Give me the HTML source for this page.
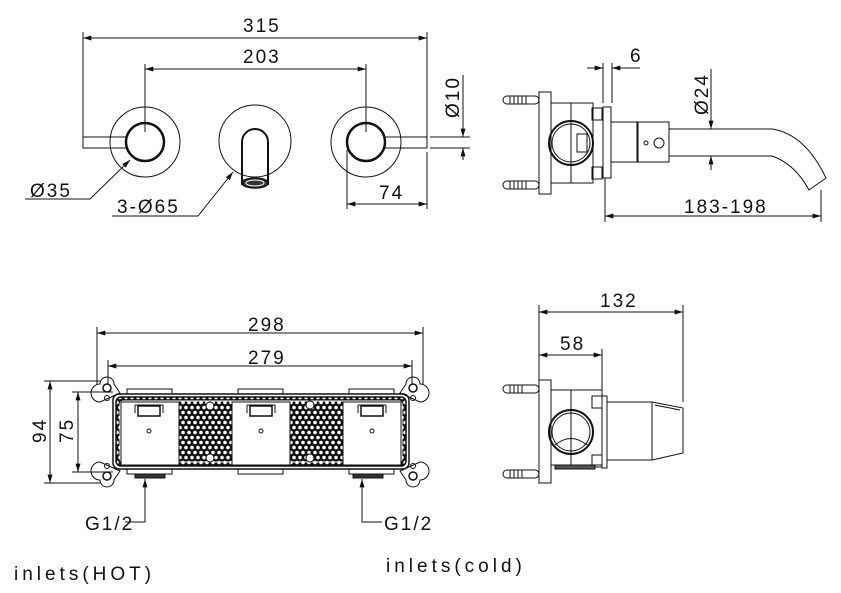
<!DOCTYPE html>
<html><head><meta charset="utf-8">
<style>
html,body{margin:0;padding:0;background:#fff;}
svg{display:block;}
text{font-family:"Liberation Sans Narrow","Liberation Sans",sans-serif;font-size:19px;fill:#111;letter-spacing:2px;}
</style></head><body>
<svg width="841" height="593" viewBox="0 0 841 593" xmlns="http://www.w3.org/2000/svg">
<defs>
<marker id="a" viewBox="0 0 10 6" refX="10" refY="3" markerWidth="12" markerHeight="5" orient="auto-start-reverse" markerUnits="userSpaceOnUse"><path d="M0,0 L10,3 L0,6 z" fill="#111"/></marker>
<pattern id="hex" width="6" height="10" patternUnits="userSpaceOnUse">
<rect width="6" height="10" fill="#111"/>
<circle cx="3" cy="2.5" r="1.8" fill="#fff"/><circle cx="0" cy="7.5" r="1.8" fill="#fff"/><circle cx="6" cy="7.5" r="1.8" fill="#fff"/>
</pattern>
</defs>
<g stroke="#111" stroke-width="1" fill="none">
<line x1="83" y1="32" x2="83" y2="137"/>
<line x1="427" y1="32" x2="427" y2="137"/>
<line x1="83" y1="38" x2="427" y2="38" marker-start="url(#a)" marker-end="url(#a)"/>
<line x1="145" y1="64" x2="145" y2="132"/>
<line x1="366" y1="64" x2="366" y2="132"/>
<line x1="145" y1="69" x2="366" y2="69" marker-start="url(#a)" marker-end="url(#a)"/>
<circle cx="145" cy="142" r="35"/>
<circle cx="145" cy="142" r="19" stroke-width="2.5"/>
<path d="M126,137 H83 V148 H126"/>
<circle cx="255" cy="141" r="36"/>
<path d="M242,185 V142 A13,13 0 0 1 268,142 V185" stroke-width="2"/>
<ellipse cx="255" cy="183" rx="13" ry="5" fill="#333" stroke-width="1.5"/>
<ellipse cx="255" cy="183" rx="9" ry="3" stroke="#fff" stroke-width="1"/>
<circle cx="366" cy="142" r="35"/>
<circle cx="366" cy="142" r="19" stroke-width="2.5"/>
<path d="M385,137 H427 V148 H385"/>
<line x1="430" y1="137" x2="470" y2="137"/>
<line x1="430" y1="148" x2="470" y2="148"/>
<line x1="463" y1="75" x2="463" y2="137" marker-end="url(#a)"/>
<line x1="463" y1="160" x2="463" y2="148" marker-end="url(#a)"/>
<polyline points="25,199 90,199 130,160" marker-end="url(#a)"/>
<polyline points="112,216 198,216 233,172" marker-end="url(#a)"/>
<line x1="347" y1="150" x2="347" y2="209"/>
<line x1="427" y1="152" x2="427" y2="209"/>
<line x1="347" y1="204" x2="427" y2="204" marker-start="url(#a)" marker-end="url(#a)"/>

<rect x="539" y="92" width="12" height="102"/>
<rect x="503" y="96" width="36" height="8" rx="4"/>
<rect x="503" y="181" width="36" height="8" rx="4"/>
<path d="M510,96v8M514,96v8M518,96v8M522,96v8M526,96v8 M510,181v8M514,181v8M518,181v8M522,181v8M526,181v8"/>
<path d="M551,103 H593 V183 H551"/>
<line x1="571" y1="103" x2="571" y2="183"/>
<circle cx="571" cy="143" r="22" stroke-width="2"/>
<circle cx="571" cy="143" r="19"/>
<rect x="577" y="134" width="10" height="18"/>
<rect x="592" y="108" width="10" height="12"/>
<rect x="592" y="167" width="10" height="12"/>
<rect x="603" y="107" width="8" height="71"/>
<rect x="611" y="122" width="27" height="40"/>
<rect x="637" y="122" width="32" height="40"/>
<circle cx="659" cy="143" r="5"/><circle cx="646" cy="143" r="2"/>
<path d="M669,129 H772 Q805,134 826,178 L809,190 Q795,164 772,156 H669"/>
<line x1="603" y1="63" x2="603" y2="103"/>
<line x1="612" y1="63" x2="612" y2="103"/>
<line x1="587" y1="68" x2="603" y2="68" marker-end="url(#a)"/>
<line x1="640" y1="68" x2="612" y2="68" marker-end="url(#a)"/>
<line x1="711" y1="69" x2="711" y2="129" marker-end="url(#a)"/>
<line x1="711" y1="170" x2="711" y2="156" marker-end="url(#a)"/>
<line x1="605" y1="178" x2="605" y2="222"/>
<line x1="821" y1="190" x2="821" y2="222"/>
<line x1="605" y1="216" x2="821" y2="216" marker-start="url(#a)" marker-end="url(#a)"/>

<line x1="97" y1="327" x2="97" y2="385"/>
<line x1="423" y1="327" x2="423" y2="385"/>
<line x1="97" y1="333" x2="423" y2="333" marker-start="url(#a)" marker-end="url(#a)"/>
<line x1="108" y1="360" x2="108" y2="385"/>
<line x1="412" y1="360" x2="412" y2="385"/>
<line x1="108" y1="366" x2="412" y2="366" marker-start="url(#a)" marker-end="url(#a)"/>
<line x1="44" y1="381" x2="100" y2="381"/>
<line x1="44" y1="483" x2="100" y2="483"/>
<line x1="50" y1="381" x2="50" y2="483" marker-start="url(#a)" marker-end="url(#a)"/>
<line x1="72" y1="392" x2="113" y2="392"/>
<line x1="72" y1="472" x2="113" y2="472"/>
<line x1="78" y1="392" x2="78" y2="472" marker-start="url(#a)" marker-end="url(#a)"/>
<path d="M100,384 A7,7 0 0 1 114,384 L120,393 L100,402 A6,6 0 0 1 100,384z"/>
<path d="M100,480 A7,7 0 0 0 114,480 L120,471 L100,462 A6,6 0 0 0 100,480z"/>
<path d="M420,384 A7,7 0 0 0 406,384 L400,393 L420,402 A6,6 0 0 0 420,384z"/>
<path d="M420,480 A7,7 0 0 1 406,480 L400,471 L420,462 A6,6 0 0 1 420,480z"/>
<circle cx="107" cy="388" r="4" stroke-width="1.5"/><circle cx="107" cy="398" r="2.5"/>
<circle cx="107" cy="476" r="4" stroke-width="1.5"/><circle cx="107" cy="466" r="2.5"/>
<circle cx="413" cy="388" r="4" stroke-width="1.5"/><circle cx="413" cy="398" r="2.5"/>
<circle cx="413" cy="476" r="4" stroke-width="1.5"/><circle cx="413" cy="466" r="2.5"/>
<rect x="127" y="389" width="45" height="5"/><rect x="238" y="389" width="45" height="5"/><rect x="349" y="389" width="45" height="5"/>
<rect x="127" y="469" width="45" height="5"/><rect x="238" y="469" width="45" height="5"/><rect x="349" y="469" width="45" height="5"/>
<rect x="135" y="474" width="30" height="4" fill="#333"/><rect x="353" y="474" width="30" height="4" fill="#333"/>
<rect x="113" y="394" width="296" height="75" rx="6" stroke-width="1.5"/>
<rect x="116" y="397" width="290" height="69" rx="5" fill="url(#hex)" stroke-width="1.5"/>
<rect x="120" y="401" width="282" height="61" rx="3" stroke="#fff" stroke-width="1"/>
<rect x="121" y="402" width="58" height="63" fill="#fff"/>
<rect x="232" y="402" width="58" height="63" fill="#fff"/>
<rect x="343" y="402" width="58" height="63" fill="#fff"/>
<rect x="138" y="406" width="22" height="10" stroke-width="1.5"/><path d="M135,405 h28 M135,405 v8 M163,405 v8"/>
<rect x="250" y="406" width="22" height="10" stroke-width="1.5"/><path d="M247,405 h28 M247,405 v8 M275,405 v8"/>
<rect x="361" y="406" width="22" height="10" stroke-width="1.5"/><path d="M358,405 h28 M358,405 v8 M386,405 v8"/>
<circle cx="149" cy="431" r="2"/><circle cx="261" cy="431" r="2"/><circle cx="372" cy="431" r="2"/>
<g fill="#fff"><circle cx="210" cy="406" r="4"/><circle cx="210" cy="458" r="4"/><circle cx="310" cy="405" r="4"/><circle cx="310" cy="458" r="4"/></g>
<polyline points="125,522 145,522 145,479" marker-end="url(#a)"/>
<polyline points="382,522 362,522 362,479" marker-end="url(#a)"/>

<line x1="539" y1="305" x2="539" y2="380"/>
<line x1="683" y1="305" x2="683" y2="402"/>
<line x1="539" y1="312" x2="683" y2="312" marker-start="url(#a)" marker-end="url(#a)"/>
<line x1="602" y1="349" x2="602" y2="396"/>
<line x1="539" y1="355" x2="602" y2="355" marker-start="url(#a)" marker-end="url(#a)"/>
<rect x="539" y="380" width="12" height="103"/>
<rect x="503" y="385" width="36" height="8" rx="4"/>
<rect x="503" y="470" width="36" height="8" rx="4"/>
<path d="M510,385v8M514,385v8M518,385v8M522,385v8 M510,470v8M514,470v8M518,470v8M522,470v8"/>
<path d="M551,390 H602 V465 H551"/>
<line x1="571" y1="390" x2="571" y2="465"/>
<circle cx="571" cy="432" r="22" stroke-width="2"/>
<circle cx="571" cy="432" r="19"/>
<path d="M555,445 Q571,432 587,445"/>
<rect x="592" y="396" width="10" height="12"/>
<rect x="592" y="455" width="10" height="12"/>
<rect x="602" y="396" width="5" height="72"/>
<rect x="607" y="402" width="45" height="58"/>
<path d="M652,402 L683,408 V453 L652,460"/>
<path d="M655,405 L680,410"/>
<rect x="555" y="465" width="40" height="4" fill="#555"/>
</g>
<g>
<text x="243" y="32">315</text>
<text x="243" y="63">203</text>
<text x="30" y="197">Ø35</text>
<text x="117" y="213">3-Ø65</text>
<text x="379" y="199">74</text>
<text transform="translate(459,118) rotate(-90)">Ø10</text>
<text x="630" y="62">6</text>
<text transform="translate(708,115) rotate(-90)">Ø24</text>
<text x="684" y="213">183-198</text>
<text x="248" y="331">298</text>
<text x="248" y="364">279</text>
<text transform="translate(46,443) rotate(-90)">94</text>
<text transform="translate(73,443) rotate(-90)">75</text>
<text x="85" y="530">G1/2</text>
<text x="384" y="530">G1/2</text>
<text x="14" y="580" style="letter-spacing:4px">inlets(HOT)</text>
<text x="386" y="572" style="letter-spacing:4px">inlets(cold)</text>
<text x="600" y="307">132</text>
<text x="560" y="350">58</text>
</g>
</svg>
</body></html>
